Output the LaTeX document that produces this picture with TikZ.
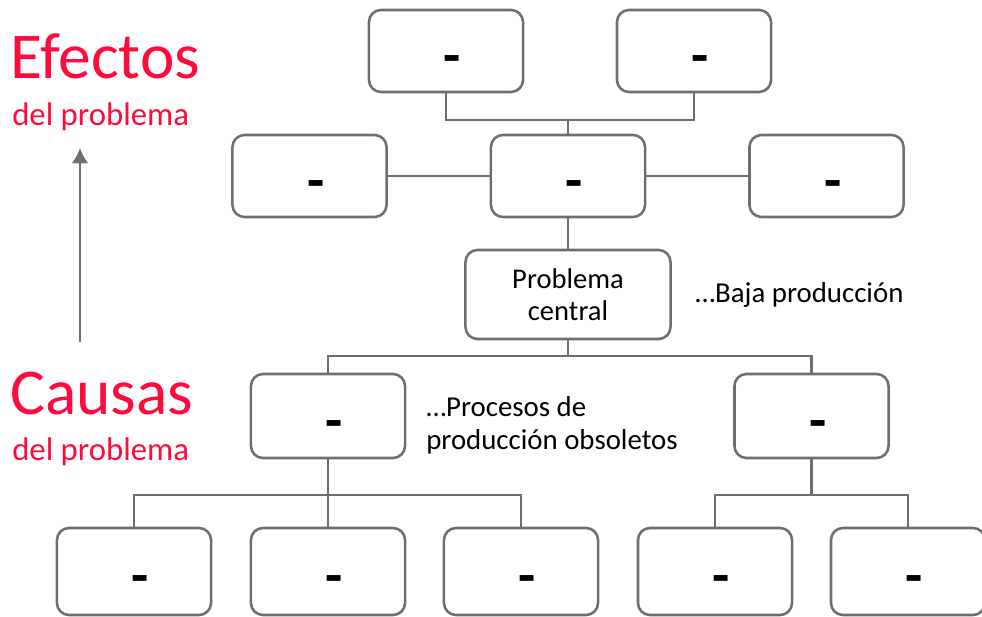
\documentclass[tikz,border=0pt]{standalone}
\usepackage{fontspec}
\setmainfont{Carlito}
\usetikzlibrary{arrows.meta}
\definecolor{efred}{HTML}{FF0A3C}
\definecolor{linegray}{HTML}{6E6E6E}

\begin{document}
\begin{tikzpicture}[x=0.025cm, y=-0.025cm,
    box/.style={draw=linegray, line width=1.8pt, rounded corners=0.3cm, minimum width=3.85cm, minimum height=2.05cm, inner sep=0pt, text height=1.15cm, text depth=0pt, font=\fontsize{40}{40}\selectfont\bfseries},
    pcbox/.style={draw=linegray, line width=1.8pt, rounded corners=0.3cm, minimum width=5.125cm, minimum height=2.225cm, align=center, font=\fontsize{20.3}{22.6}\selectfont},
    link/.style={draw=linegray, line width=1.8pt},
    bigred/.style={text=efred, font=\fontsize{46.5}{46.5}\selectfont, anchor=base west, inner sep=0pt},
    smallred/.style={text=efred, font=\fontsize{23.3}{23.3}\selectfont, anchor=base west, inner sep=0pt},
    note/.style={font=\fontsize{20.5}{23.5}\selectfont, align=left, anchor=west, inner sep=0pt}]
    \useasboundingbox (0,0) rectangle (982,617);

    % efectos
    \node[box] (e1) at (446, 51) {\ -};
    \node[box] (e2) at (694, 51) {\ -};
    \node[box] (e3) at (309.5, 176) {\ -};
    \node[box] (e4) at (568, 176) {\ -};
    \node[box] (e5) at (826.5, 176) {\ -};

    % problema central
    \node[pcbox] (pc) at (568, 294.5) {Problema\\central};
    \node[note] (baja) at (695, 295) {…Baja producción};

    % causas
    \node[box, minimum height=2.1cm] (c1) at (328, 416) {\ -};
    \node[box, minimum height=2.1cm] (c2) at (811.5, 416) {\ -};
    \node[note] (procesos) at (426, 425) {…Procesos de\\producción obsoletos};

    \node[box, minimum height=2.175cm] (b1) at (134, 571.5) {\ -};
    \node[box, minimum height=2.175cm] (b2) at (328, 571.5) {\ -};
    \node[box, minimum height=2.175cm] (b3) at (521, 571.5) {\ -};
    \node[box, minimum height=2.175cm] (b4) at (715, 571.5) {\ -};
    \node[box, minimum height=2.175cm] (b5) at (908, 571.5) {\ -};

    % connectors
    \coordinate (j1) at (e4 |- 0,120);
    \coordinate (j2) at (pc |- 0,356);
    \coordinate (j3) at (c1 |- 0,495);
    \coordinate (j4) at (c2 |- 0,495);
    \draw[link] (e1.south) |- (j1) -| (e2.south);
    \draw[link] (j1) -- (e4.north);
    \draw[link] (e3) -- (e4) -- (e5);
    \draw[link] (e4) -- (pc);
    \draw[link] (pc) -- (j2);
    \draw[link] (c1.north) |- (j2) -| (c2.north);
    \draw[link] (b1.north) |- (j3) -| (b3.north);
    \draw[link] (c1) -- (b2);
    \draw[link] (b4.north) |- (j4) -| (b5.north);
    \draw[link] (c2) -- (j4);

    % labels left
    \node[bigred] (efectos) at (10, 79) {Efectos};
    \node[smallred] (efdel) at (12, 126) {del problema};
    \node[bigred] (causas) at (10, 414) {Causas};
    \node[smallred] (cadel) at (12, 460) {del problema};
    \coordinate (arrbot) at (80, 342);
    \coordinate (arrtop) at (80, 148);
    \draw[link, -{Latex[length=11pt, width=12pt]}] (arrbot) -- (arrtop);
\end{tikzpicture}
\end{document}
